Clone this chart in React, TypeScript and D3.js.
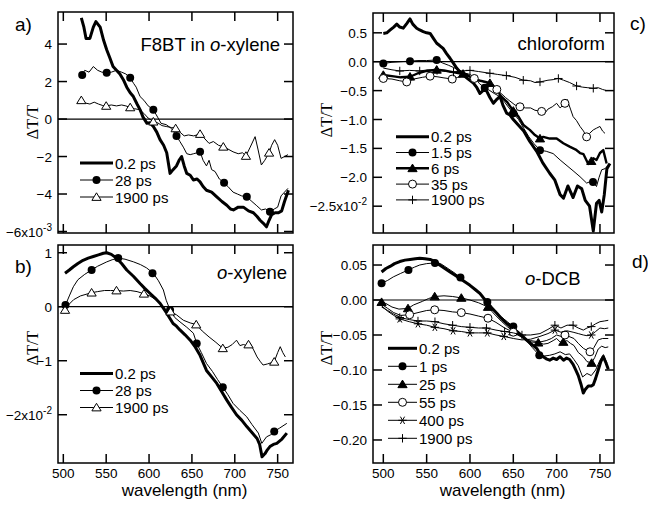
import * as d3 from 'd3';
import React from 'react';

type Pt = [number, number];

// wavelength ticks shared by every panel
const xTickValues = [500, 550, 600, 650, 700, 750];

// ---- panel a : F8BT in o-xylene (x10^-3) ----
const aYTicks = [4, 2, 0, -2, -4, -6];
const a02: Pt[] = [[521, 5.4], [524, 4.9], [526.5, 4.3], [531, 4.3], [535, 4.9], [538, 5.2], [543, 4.9], [547, 4.2], [550.6, 3.7], [554, 3.3], [558, 2.8], [562, 2.6], [566, 2.4], [570, 2.1], [574, 1.7], [578, 1.4], [581.7, 1.2], [586, 0.8], [589.5, 0.5], [593, 0.1], [597.6, -0.23], [601, -0.2], [605, -0.4], [609, -0.7], [612.8, -1.1], [617, -1.4], [620.6, -1.8], [624.5, -2.9], [628, -2.7], [632, -2.5], [635, -2.2], [638, -2.0], [641, -2.5], [644, -2.9], [648, -3.0], [651.7, -3.25], [656, -3.2], [659.5, -3.35], [663, -3.6], [667, -3.8], [673, -3.9], [679, -4.15], [685, -4.4], [690.7, -4.6], [695, -4.8], [698.4, -4.85], [704, -4.7], [710, -4.7], [716, -4.9], [721.7, -5.0], [726, -5.2], [729.5, -5.4], [733, -5.55], [737, -5.75], [740, -5.4], [743, -5.1], [747, -5.0], [751, -5.0], [754.7, -4.9], [758, -4.4], [762.6, -3.8]];
const a28: Pt[] = [[521, 2.3], [525, 2.6], [530, 2.5], [535, 2.8], [540, 2.6], [545, 2.5], [550.6, 2.47], [556, 2.5], [562, 2.6], [568, 2.5], [573, 2.4], [578, 2.2], [582, 1.9], [585, 1.7], [589.5, 1.2], [594, 1.0], [599, 0.7], [605, 0.5], [610, 0.1], [614, -0.23], [620, -0.3], [626, -0.5], [632, -0.9], [636, -1.2], [640, -1.5], [644, -1.85], [648, -1.9], [652, -1.85], [656, -1.8], [659.5, -1.74], [663, -2.2], [667, -2.5], [670, -2.2], [673, -2.7], [677, -2.8], [682, -3.2], [687.5, -3.4], [692, -3.6], [698, -3.9], [703, -4.0], [708, -4.1], [714, -4.15], [720, -4.4], [725, -4.6], [731, -4.85], [736, -4.8], [741, -4.95], [746, -4.8], [750, -4.7], [754, -4.1], [758, -3.9], [762, -3.7]];
const a28Marks: Pt[] = [[522, 2.35], [550.6, 2.47], [578, 2.2], [605, 0.5], [632, -0.9], [659.5, -1.74], [687.5, -3.4], [714, -4.15], [741, -4.95]];
const a1900: Pt[] = [[521, 1.0], [526, 0.85], [531, 0.8], [536, 0.9], [541, 0.8], [546, 0.72], [550, 0.7], [556, 0.75], [562, 0.7], [568, 0.75], [573, 0.7], [578, 0.62], [583, 0.55], [589, 0.5], [594, 0.3], [599, 0.05], [605, -0.14], [610, -0.2], [615, -0.35], [620, -0.4], [626, -0.45], [631, -0.5], [636, -0.7], [641, -0.9], [646, -0.85], [652, -0.9], [659.5, -0.8], [664, -1.0], [670, -1.3], [675, -1.2], [681, -1.4], [686.6, -1.48], [692, -1.6], [698, -1.75], [704, -1.85], [709, -1.8], [713, -1.97], [718, -1.5], [723.7, -0.94], [727, -1.6], [731, -2.45], [735, -2.2], [740, -1.8], [743, -1.4], [746.5, -1.1], [750, -1.4], [754, -2.1], [758, -2.0], [762, -1.9]];
const a1900Marks: Pt[] = [[521, 1.0], [550, 0.7], [578, 0.62], [605, -0.14], [631, -0.5], [659.5, -0.8], [686.6, -1.48], [713, -1.97], [740, -1.8]];

// ---- panel b : o-xylene (x10^-2) ----
const bYTicks = [1, 0, -1, -2];
const b02: Pt[] = [[502, 0.62], [507, 0.68], [511.7, 0.74], [517, 0.8], [523, 0.86], [529, 0.9], [535, 0.93], [541, 0.96], [546.7, 0.99], [550.6, 1.0], [556, 0.97], [562, 0.9], [568, 0.8], [574, 0.68], [582, 0.56], [589.5, 0.43], [595, 0.34], [601, 0.25], [607, 0.16], [613, 0.06], [620.6, -0.12], [628, -0.31], [632, -0.36], [636, -0.43], [642, -0.52], [648, -0.62], [654, -0.75], [659.5, -0.9], [667, -1.18], [673, -1.3], [679, -1.42], [685, -1.58], [690.7, -1.73], [696, -1.86], [702, -2.0], [708, -2.1], [714, -2.22], [720, -2.33], [726, -2.44], [729, -2.55], [731.8, -2.78], [735.3, -2.72], [738, -2.65], [741, -2.59], [745, -2.55], [749, -2.53], [755, -2.45], [760.7, -2.34]];
const b28: Pt[] = [[502.5, 0.03], [507, 0.2], [511.7, 0.37], [517, 0.5], [525, 0.6], [533, 0.68], [540, 0.75], [550.6, 0.83], [557, 0.87], [564, 0.9], [572, 0.88], [582, 0.83], [590, 0.78], [597, 0.72], [605, 0.62], [611, 0.48], [616.7, 0.31], [620, 0.12], [624.5, -0.06], [630, -0.2], [636, -0.28], [644, -0.38], [651.7, -0.49], [655.6, -0.68], [661, -0.85], [667, -1.05], [674, -1.2], [680, -1.35], [686, -1.49], [692, -1.63], [698, -1.79], [706, -1.92], [714, -2.04], [720, -2.18], [727.5, -2.34], [731.5, -2.53], [737, -2.41], [742, -2.37], [746, -2.31], [752, -2.25], [760.7, -2.16]];
const b28Marks: Pt[] = [[502.5, 0.03], [533, 0.68], [564, 0.9], [604, 0.62], [624.5, -0.06], [655.6, -0.68], [686, -1.49], [746, -2.31]];
const b1900: Pt[] = [[502, -0.06], [507, 0.05], [512, 0.13], [520, 0.2], [533, 0.26], [540, 0.28], [548, 0.3], [555, 0.3], [562, 0.3], [570, 0.29], [578, 0.3], [586, 0.28], [594, 0.24], [601, 0.2], [608, 0.13], [614, 0.05], [620, -0.06], [625, -0.09], [632, -0.15], [640, -0.25], [648, -0.3], [655, -0.33], [662, -0.45], [670, -0.56], [678, -0.66], [686, -0.77], [692, -0.75], [697, -0.7], [702, -0.62], [706, -0.72], [710, -0.7], [714, -0.72], [718, -0.68], [722, -0.8], [726, -0.93], [730, -1.02], [733, -1.08], [738, -1.06], [742, -1.04], [746, -1.02], [750, -0.85], [753, -0.74], [756, -0.85], [759, -0.93]];
const b1900Marks: Pt[] = [[502, -0.06], [533, 0.26], [562, 0.3], [594, 0.24], [625, -0.09], [655, -0.33], [686, -0.77], [716, -0.7], [746, -1.02]];

// ---- panel c : chloroform (x10^-2) ----
const cYTicks = [0.5, 0, -0.5, -1, -1.5, -2, -2.5];
const c02: Pt[] = [[500, 0.49], [504, 0.5], [508, 0.55], [512, 0.6], [515.5, 0.65], [519, 0.6], [523, 0.58], [527, 0.66], [530.8, 0.74], [534, 0.65], [538.5, 0.58], [542, 0.55], [546, 0.52], [550, 0.5], [554, 0.49], [558, 0.4], [561.6, 0.32], [565, 0.28], [569, 0.23], [573, 0.14], [577, 0.06], [581, -0.03], [584.6, -0.11], [588, -0.17], [592.3, -0.23], [598, -0.3], [604, -0.37], [608, -0.45], [611.5, -0.55], [615, -0.5], [619, -0.5], [623, -0.62], [627, -0.72], [631, -0.65], [634.6, -0.6], [638, -0.75], [642.3, -0.89], [646, -0.92], [650, -1.0], [656, -1.1], [662, -1.2], [669, -1.38], [677, -1.55], [684, -1.75], [692, -1.93], [698, -2.05], [704, -2.3], [708, -2.36], [713, -2.15], [719, -2.35], [724, -2.15], [729, -2.2], [733, -2.4], [738, -2.5], [742.3, -2.93], [746, -2.45], [749, -2.4], [752, -2.6], [755, -2.3], [758, -1.85], [761.5, -1.76]];
const c15: Pt[] = [[500, -0.03], [510, -0.01], [520, 0.0], [530.8, 0.01], [540, 0.02], [550, 0.02], [561.6, 0.03], [568, -0.02], [575, -0.06], [581, -0.1], [588.5, -0.15], [595, -0.2], [600, -0.22], [606, -0.28], [611, -0.38], [617, -0.45], [623, -0.5], [628, -0.55], [634, -0.6], [640, -0.7], [645, -0.8], [650, -0.89], [656, -1.0], [662, -1.15], [668, -1.3], [674, -1.42], [680.8, -1.53], [688, -1.55], [696, -1.59], [704, -1.7], [712, -1.8], [720, -1.9], [727, -1.99], [734.6, -2.1], [738, -2.08], [742, -2.08], [746, -2.16], [749, -2.0], [752, -1.87], [756, -1.85], [759, -1.8]];
const c15Marks: Pt[] = [[500, -0.03], [530.8, 0.01], [561.6, 0.03], [617, -0.45], [650, -0.89], [680.8, -1.53], [742, -2.08]];
const c6: Pt[] = [[500, -0.23], [510, -0.25], [520, -0.27], [530.8, -0.26], [540, -0.2], [550, -0.16], [561.6, -0.14], [570, -0.15], [580, -0.18], [588, -0.2], [596, -0.22], [604, -0.3], [612, -0.33], [618, -0.35], [623, -0.37], [629, -0.45], [636, -0.6], [643, -0.7], [650, -0.85], [656, -0.95], [662, -1.1], [669, -1.18], [675, -1.27], [680.8, -1.33], [684.6, -1.3], [692, -1.33], [700, -1.33], [707.7, -1.41], [715, -1.47], [722, -1.52], [727, -1.58], [731, -1.6], [736.5, -1.77], [740, -1.72], [742.3, -1.67], [746, -1.7], [750, -1.58], [753.8, -1.53], [757.7, -1.76]];
const c6Marks: Pt[] = [[500, -0.23], [530.8, -0.26], [561.6, -0.14], [592, -0.21], [623, -0.37], [650, -0.85], [680.8, -1.33], [740, -1.72]];
const c35: Pt[] = [[500, -0.29], [510, -0.3], [519, -0.33], [527, -0.35], [535, -0.3], [545, -0.27], [554, -0.25], [562, -0.26], [570, -0.28], [579.5, -0.3], [586, -0.27], [592, -0.25], [600, -0.25], [606, -0.3], [612, -0.33], [617, -0.36], [623, -0.38], [630, -0.47], [636, -0.55], [641, -0.62], [646, -0.68], [652, -0.75], [657.7, -0.78], [664, -0.8], [670, -0.8], [675, -0.84], [682.7, -0.86], [686, -0.9], [690, -0.82], [695, -0.78], [700, -0.72], [704, -0.8], [709.6, -0.72], [712, -0.65], [716, -0.82], [719, -0.95], [723, -1.02], [727, -1.12], [731, -1.2], [734.6, -1.3], [738, -1.24], [742.3, -1.18], [746, -1.15], [750, -1.12], [753, -1.2], [755.8, -1.24]];
const c35Marks: Pt[] = [[500, -0.29], [527, -0.35], [554, -0.25], [579.5, -0.3], [605, -0.29], [631, -0.48], [657.7, -0.78], [682.7, -0.86], [709.6, -0.72], [734.6, -1.3]];
const c1900: Pt[] = [[500, -0.11], [510, -0.14], [519, -0.16], [530, -0.15], [542, -0.16], [552, -0.14], [562, -0.15], [572, -0.17], [581, -0.18], [590, -0.16], [600, -0.15], [610, -0.17], [623, -0.2], [632, -0.22], [642, -0.24], [652, -0.27], [661.5, -0.32], [670, -0.33], [675, -0.36], [680.8, -0.35], [690, -0.32], [696, -0.31], [702, -0.29], [708, -0.32], [715, -0.36], [723, -0.42], [730, -0.44], [736, -0.45], [742.3, -0.46], [748, -0.45], [753, -0.48], [757.7, -0.5]];
const c1900Marks: Pt[] = [[519, -0.16], [542, -0.16], [562, -0.15], [581, -0.18], [600, -0.15], [623, -0.2], [642, -0.24], [661.5, -0.32], [680.8, -0.35], [702, -0.29], [723, -0.42], [742.3, -0.46]];

// ---- panel d : o-DCB ----
const dYTicks = [0.05, 0, -0.05, -0.1, -0.15, -0.2];
const d02: Pt[] = [[498, 0.040], [503, 0.045], [507.7, 0.048], [513, 0.052], [519, 0.055], [525, 0.057], [531, 0.058], [537, 0.059], [542, 0.0595], [548, 0.059], [554, 0.058], [560, 0.055], [565, 0.050], [571, 0.045], [577, 0.040], [582, 0.036], [588, 0.031], [594, 0.026], [600, 0.021], [606, 0.015], [611.5, 0.0095], [615, 0.004], [619, -0.002], [625, -0.011], [631, -0.019], [636, -0.026], [642, -0.033], [648, -0.039], [654, -0.045], [660, -0.051], [665, -0.057], [671, -0.063], [677, -0.069], [681, -0.078], [684.6, -0.081], [688, -0.084], [692, -0.086], [696, -0.083], [700, -0.085], [704, -0.081], [708, -0.086], [711.5, -0.083], [715, -0.085], [719, -0.092], [722, -0.1], [725, -0.108], [728, -0.12], [730.8, -0.133], [733, -0.128], [736.5, -0.123], [740, -0.123], [742.3, -0.121], [745, -0.112], [748, -0.1], [751, -0.088], [753.8, -0.081], [757, -0.09], [759.6, -0.099]];
const d1: Pt[] = [[498, 0.024], [505, 0.028], [511.5, 0.033], [520, 0.038], [529, 0.043], [536, 0.047], [542, 0.05], [550, 0.052], [559.6, 0.053], [566, 0.052], [571, 0.048], [577, 0.043], [583, 0.038], [589, 0.032], [596, 0.024], [603, 0.017], [610, 0.009], [620, -0.003], [628, -0.015], [636, -0.024], [643, -0.031], [650, -0.038], [658, -0.048], [665, -0.058], [672, -0.068], [680, -0.079], [686, -0.08], [692, -0.079], [698, -0.077], [704, -0.074], [710, -0.078], [715, -0.077], [720, -0.085], [725, -0.094], [730, -0.11], [735, -0.105], [740, -0.108], [745, -0.1], [750, -0.086], [754, -0.078], [758, -0.09]];
const d1Marks: Pt[] = [[498, 0.024], [529, 0.043], [559.6, 0.053], [589, 0.032], [620, -0.003], [650, -0.038], [680, -0.079]];
const d25: Pt[] = [[498, -0.003], [503, -0.005], [510, -0.01], [518, -0.013], [528.5, -0.012], [535, -0.007], [545, -0.002], [552, 0.002], [559.3, 0.005], [570, 0.006], [580, 0.005], [590, 0.003], [600, 0.0], [610, -0.004], [620.8, -0.01], [628, -0.02], [636, -0.03], [643, -0.038], [650, -0.045], [658, -0.052], [665, -0.057], [671, -0.06], [678.8, -0.061], [685, -0.063], [690, -0.062], [696, -0.058], [700, -0.055], [704, -0.06], [707.7, -0.06], [712, -0.058], [716, -0.062], [720, -0.065], [725, -0.075], [730.8, -0.081], [735, -0.088], [740.4, -0.09], [744, -0.082], [748, -0.07], [752, -0.066], [756, -0.068], [759.6, -0.067]];
const d25Marks: Pt[] = [[498, -0.003], [528.5, -0.012], [559.3, 0.005], [590, 0.003], [620.8, -0.01], [650, -0.045], [678.8, -0.061], [707.7, -0.06], [740.4, -0.09]];
const d55: Pt[] = [[498, -0.006], [505, -0.012], [512, -0.018], [520, -0.022], [530.4, -0.021], [540, -0.018], [550, -0.015], [559.3, -0.014], [570, -0.015], [580, -0.017], [590, -0.018], [600, -0.02], [610, -0.023], [620.8, -0.026], [630, -0.032], [640, -0.04], [650, -0.046], [660, -0.053], [670, -0.058], [680.8, -0.06], [688, -0.058], [694, -0.055], [700, -0.05], [705, -0.052], [709.6, -0.05], [714, -0.052], [720, -0.055], [725, -0.062], [730.8, -0.069], [735, -0.072], [738.5, -0.074], [743, -0.068], [748, -0.057], [753, -0.055], [759.6, -0.055]];
const d55Marks: Pt[] = [[530.4, -0.021], [559.3, -0.014], [590, -0.018], [620.8, -0.026], [650, -0.046], [709.6, -0.05], [738.5, -0.074]];
const d400: Pt[] = [[498, -0.008], [505, -0.016], [512, -0.022], [519, -0.027], [530, -0.031], [540, -0.034], [550, -0.036], [559.5, -0.039], [570, -0.041], [580.5, -0.044], [590, -0.045], [600, -0.047], [610, -0.047], [620, -0.047], [630, -0.05], [639, -0.052], [650, -0.055], [660, -0.057], [670, -0.056], [680.8, -0.052], [690, -0.048], [698, -0.043], [705, -0.046], [712, -0.044], [719, -0.046], [725, -0.048], [730.8, -0.05], [735, -0.051], [740, -0.05], [745, -0.045], [750, -0.04], [755, -0.041], [759.6, -0.04]];
const d400Marks: Pt[] = [[519, -0.027], [540, -0.034], [559.5, -0.039], [580.5, -0.044], [600, -0.047], [620, -0.047], [639, -0.052], [698, -0.043], [740, -0.05]];
const d1900: Pt[] = [[498, -0.01], [505, -0.015], [512, -0.02], [519, -0.025], [530, -0.028], [540, -0.03], [550, -0.03], [559.6, -0.031], [570, -0.034], [580, -0.036], [590, -0.038], [600, -0.039], [610, -0.04], [619, -0.04], [630, -0.043], [640, -0.045], [650, -0.047], [660, -0.05], [670, -0.05], [680.8, -0.048], [690, -0.042], [698, -0.036], [705, -0.04], [712, -0.036], [719, -0.036], [725, -0.04], [730.8, -0.043], [735, -0.04], [740, -0.038], [745, -0.034], [750, -0.031], [755, -0.03], [759.6, -0.029]];
const d1900Marks: Pt[] = [[519, -0.025], [540, -0.03], [559.6, -0.031], [580, -0.036], [600, -0.039], [619, -0.04], [640, -0.045], [660, -0.05], [698, -0.036], [719, -0.036], [740, -0.038]];

const FONT = "'Liberation Sans', Arial, sans-serif";

type MarkKind = 'none' | 'dot' | 'ring' | 'tri' | 'triOpen' | 'plus' | 'star';

function Marker({ kind, x, y }: { kind: MarkKind; x: number; y: number }) {
  const s = 4.2;
  if (kind === 'dot') return <circle cx={x} cy={y} r={4} fill="#000" />;
  if (kind === 'ring') return <circle cx={x} cy={y} r={4} fill="#fff" stroke="#000" strokeWidth={1} />;
  if (kind === 'tri' || kind === 'triOpen') {
    return (
      <path
        d={`M${x},${y - s}L${x + s + 0.4},${y + s * 0.8}L${x - s - 0.4},${y + s * 0.8}Z`}
        fill={kind === 'tri' ? '#000' : '#fff'}
        stroke="#000"
        strokeWidth={1}
      />
    );
  }
  if (kind === 'plus') return <path d={`M${x - s},${y}H${x + s}M${x},${y - s}V${y + s}`} stroke="#000" strokeWidth={1} />;
  if (kind === 'star') {
    const c = s * 0.87, h = s * 0.5;
    return (
      <path
        d={`M${x - s},${y}H${x + s}M${x - h},${y - c}L${x + h},${y + c}M${x + h},${y - c}L${x - h},${y + c}`}
        stroke="#000"
        strokeWidth={1}
      />
    );
  }
  return null;
}

type Series = { label: string; data: Pt[]; marks: Pt[]; kind: MarkKind; width: number };

type PanelCfg = {
  left: number; right: number; top: number; bottom: number;
  xDomain: [number, number]; yDomain: [number, number];
  yTicks: number[]; fmt: (v: number) => string; expo: string;
  series: Series[];
  letter: { x: number; y: number; text: string };
  sample: { x: number; y: number; anchor: string; prefix: string; italic: string; rest: string };
  legend: { x0: number; x1: number; y0: number; dy: number };
  yTitle: { x: number; y: number };
  xLabels: boolean;
};

const panels: PanelCfg[] = [
  {
    left: 58, right: 293, top: 12, bottom: 233,
    xDomain: [493.8, 767.9], yDomain: [-6.08, 5.71],
    yTicks: aYTicks, fmt: d3.format('d'), expo: '-3',
    series: [
      { label: '0.2 ps', data: a02, marks: [], kind: 'none', width: 3 },
      { label: '28 ps', data: a28, marks: a28Marks, kind: 'dot', width: 1 },
      { label: '1900 ps', data: a1900, marks: a1900Marks, kind: 'triOpen', width: 1 },
    ],
    letter: { x: 15, y: 31, text: 'a)' },
    sample: { x: 280, y: 51, anchor: 'end', prefix: 'F8BT in ', italic: 'o', rest: '-xylene' },
    legend: { x0: 80, x1: 113, y0: 163, dy: 17 },
    yTitle: { x: 32, y: 122 },
    xLabels: false,
  },
  {
    left: 58, right: 293, top: 245, bottom: 463,
    xDomain: [493.8, 767.9], yDomain: [-2.894, 1.143],
    yTicks: bYTicks, fmt: d3.format('d'), expo: '-2',
    series: [
      { label: '0.2 ps', data: b02, marks: [], kind: 'none', width: 3 },
      { label: '28 ps', data: b28, marks: b28Marks, kind: 'dot', width: 1 },
      { label: '1900 ps', data: b1900, marks: b1900Marks, kind: 'triOpen', width: 1 },
    ],
    letter: { x: 15, y: 273, text: 'b)' },
    sample: { x: 287, y: 279, anchor: 'end', prefix: '', italic: 'o', rest: '-xylene' },
    legend: { x0: 80, x1: 113, y0: 373.5, dy: 17 },
    yTitle: { x: 32, y: 348 },
    xLabels: true,
  },
  {
    left: 373, right: 614, top: 13, bottom: 233,
    xDomain: [488.1, 766.2], yDomain: [-2.964, 0.843],
    yTicks: cYTicks, fmt: d3.format('.1f'), expo: '-2',
    series: [
      { label: '0.2 ps', data: c02, marks: [], kind: 'none', width: 3 },
      { label: '1.5 ps', data: c15, marks: c15Marks, kind: 'dot', width: 1 },
      { label: '6 ps', data: c6, marks: c6Marks, kind: 'tri', width: 2.4 },
      { label: '35 ps', data: c35, marks: c35Marks, kind: 'ring', width: 1 },
      { label: '1900 ps', data: c1900, marks: c1900Marks, kind: 'plus', width: 1 },
    ],
    letter: { x: 630, y: 30, text: 'c)' },
    sample: { x: 605, y: 50, anchor: 'end', prefix: '', italic: '', rest: 'chloroform' },
    legend: { x0: 396, x1: 429, y0: 136.7, dy: 15.8 },
    yTitle: { x: 326, y: 120 },
    xLabels: false,
  },
  {
    left: 373, right: 614, top: 245, bottom: 463,
    xDomain: [488.1, 766.2], yDomain: [-0.2329, 0.0786],
    yTicks: dYTicks, fmt: d3.format('.2f'), expo: '',
    series: [
      { label: '0.2 ps', data: d02, marks: [], kind: 'none', width: 3 },
      { label: '1 ps', data: d1, marks: d1Marks, kind: 'dot', width: 1 },
      { label: '25 ps', data: d25, marks: d25Marks, kind: 'tri', width: 1 },
      { label: '55 ps', data: d55, marks: d55Marks, kind: 'ring', width: 1 },
      { label: '400 ps', data: d400, marks: d400Marks, kind: 'star', width: 1 },
      { label: '1900 ps', data: d1900, marks: d1900Marks, kind: 'plus', width: 1 },
    ],
    letter: { x: 632, y: 268, text: 'd)' },
    sample: { x: 525, y: 285, anchor: 'start', prefix: '', italic: 'o', rest: '-DCB' },
    legend: { x0: 388, x1: 417, y0: 348.3, dy: 18 },
    yTitle: { x: 326, y: 348 },
    xLabels: true,
  },
];

function Panel({ p }: { p: PanelCfg }) {
  const x = d3.scaleLinear().domain(p.xDomain).range([p.left, p.right]);
  const y = d3.scaleLinear().domain(p.yDomain).range([p.bottom, p.top]);
  const line = d3.line<Pt>().x(d => x(d[0])).y(d => y(d[1]));
  const tk = 9;
  const lastTick = p.yTicks[p.yTicks.length - 1];

  return (
    <g>
      {/* zero line */}
      <line x1={p.left} x2={p.right} y1={y(0)} y2={y(0)} stroke="#000" strokeWidth={1.2} />

      {/* series */}
      {p.series.map((s, i) => (
        <g key={i}>
          <path d={line(s.data) || ''} fill="none" stroke="#000" strokeWidth={s.width} strokeLinejoin="round" />
          {s.marks.map((m, j) => <Marker key={j} kind={s.kind} x={x(m[0])} y={y(m[1])} />)}
        </g>
      ))}

      {/* frame and inward ticks */}
      <rect x={p.left} y={p.top} width={p.right - p.left} height={p.bottom - p.top} fill="none" stroke="#000" strokeWidth={1.5} />
      {xTickValues.map(v => (
        <g key={v}>
          <line x1={x(v)} x2={x(v)} y1={p.top} y2={p.top + tk} stroke="#000" strokeWidth={1.5} />
          <line x1={x(v)} x2={x(v)} y1={p.bottom} y2={p.bottom - tk} stroke="#000" strokeWidth={1.5} />
          {p.xLabels && (
            <text x={x(v)} y={p.bottom + 15} textAnchor="middle" fontSize={13.5} fontFamily={FONT}>{v}</text>
          )}
        </g>
      ))}
      {p.yTicks.map(v => (
        <g key={v}>
          <line x1={p.left} x2={p.left + tk} y1={y(v)} y2={y(v)} stroke="#000" strokeWidth={1.5} />
          <line x1={p.right} x2={p.right - tk} y1={y(v)} y2={y(v)} stroke="#000" strokeWidth={1.5} />
          <text x={p.left - 6} y={y(v) + 5} textAnchor="end" fontSize={13.5} fontFamily={FONT}>
            {p.fmt(v)}
            {v === lastTick && p.expo && (
              <>
                x10<tspan dy={-6} fontSize={10}>{p.expo}</tspan>
              </>
            )}
          </text>
        </g>
      ))}

      {/* axis titles */}
      <text
        transform={`translate(${p.yTitle.x},${p.yTitle.y}) rotate(-90)`}
        textAnchor="middle"
        dy="0.35em"
        fontSize={16}
        fontFamily="'Liberation Serif', 'Times New Roman', serif"
      >
        ΔT/T
      </text>
      {p.xLabels && (
        <text x={(p.left + p.right) / 2 + 9} y={p.bottom + 33} textAnchor="middle" fontSize={17} fontFamily={FONT}>
          wavelength (nm)
        </text>
      )}

      {/* panel letter and sample */}
      <text x={p.letter.x} y={p.letter.y} fontSize={19} fontFamily={FONT}>{p.letter.text}</text>
      <text x={p.sample.x} y={p.sample.y} textAnchor={p.sample.anchor} fontSize={18.5} fontFamily={FONT}>
        {p.sample.prefix}
        {p.sample.italic && <tspan fontStyle="italic">{p.sample.italic}</tspan>}
        {p.sample.rest}
      </text>

      {/* legend */}
      {p.series.map((s, i) => {
        const ly = p.legend.y0 + i * p.legend.dy;
        return (
          <g key={i}>
            <line x1={p.legend.x0} x2={p.legend.x1} y1={ly} y2={ly} stroke="#000" strokeWidth={s.width} />
            <Marker kind={s.kind} x={(p.legend.x0 + p.legend.x1) / 2} y={ly} />
            <text x={p.legend.x1 + 2} y={ly + 5.5} fontSize={15} fontFamily={FONT}>{s.label}</text>
          </g>
        );
      })}
    </g>
  );
}

export default function App() {
  return (
    <svg width={648} height={506} style={{ position: 'absolute', left: 0, top: 0, background: '#fff' }}>
      <rect width={648} height={506} fill="#fff" />
      {panels.map((p, i) => <Panel key={i} p={p} />)}
    </svg>
  );
}
